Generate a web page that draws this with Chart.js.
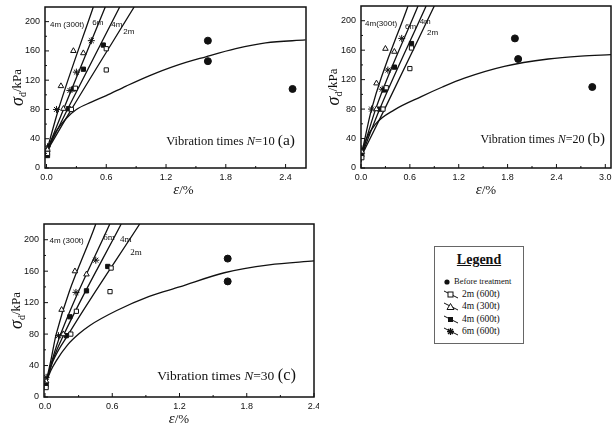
<!DOCTYPE html>
<html>
<head>
<meta charset="utf-8">
<script src="https://cdn.jsdelivr.net/npm/chart.js@4.4.1/dist/chart.umd.min.js"></script>
<style>
  body { margin: 0; width: 616px; height: 430px; background: #fff; position: relative; overflow: hidden; }
  canvas { position: absolute; }
  #legend { position: absolute; left: 434px; top: 246px; width: 88px; height: 96px; border: 1px solid #666; background: #fff;
            font-family: "Liberation Serif", serif; color: #111; }
  #legend .title { text-align: center; font-weight: bold; font-size: 14px; text-decoration: underline; margin-top: 5px; margin-bottom: 7px; color: #111; }
  #legend .row { height: 12.5px; font-size: 9.5px; line-height: 12px; padding-left: 8px; white-space: nowrap; color: #111; }
  #legend .row svg { vertical-align: middle; margin-right: 3px; }
</style>
</head>
<body>
<canvas id="chartA" width="308" height="196" style="left:3px;top:2px"></canvas>
<canvas id="chartB" width="297" height="197" style="left:319px;top:1px"></canvas>
<canvas id="chartC" width="317" height="210" style="left:2px;top:219px"></canvas>
<div id="legend">
  <div class="title">Legend</div>
  <div class="row" style="font-size:8.5px"><svg width="8" height="8"><circle cx="4" cy="4" r="2.6" fill="#111"/></svg>Before treatment</div>
  <div class="row"><svg width="16" height="9"><line x1="1" y1="1" x2="15" y2="8" stroke="#111"/><rect x="5" y="2" width="5" height="5" fill="#fff" stroke="#111"/></svg>2m (600t)</div>
  <div class="row"><svg width="16" height="9"><line x1="1" y1="1" x2="15" y2="8" stroke="#111"/><polygon points="7.5,1.5 11,7.5 4,7.5" fill="#fff" stroke="#111"/></svg>4m (300t)</div>
  <div class="row"><svg width="16" height="9"><line x1="1" y1="1" x2="15" y2="8" stroke="#111"/><rect x="5" y="2" width="5" height="5" fill="#111"/></svg>4m (600t)</div>
  <div class="row"><svg width="16" height="9"><line x1="1" y1="1" x2="15" y2="8" stroke="#111"/><path d="M7.5 1v7M4 4.5h7M5 2l5 5M10 2l-5 5" stroke="#111" stroke-width="1.3"/></svg>6m (600t)</div>
</div>
<script>
// tick labels
const xTicksA = [0, 0.6, 1.2, 1.8, 2.4];
const xTicksB = [0, 0.6, 1.2, 1.8, 2.4, 3.0];
const xTicksC = [0, 0.6, 1.2, 1.8, 2.4];
const yTicks = [0, 40, 80, 120, 160, 200];

// N=10 (a)
const beforePtsA = [[1.62, 174], [1.62, 146], [2.47, 108]];
const beforeCurveA = [[0, 14], [0.02, 26], [0.05, 38], [0.1, 51], [0.2, 68], [0.3, 80], [0.45, 90], [0.6, 99], [0.8, 112], [1.03, 126], [1.3, 140], [1.6, 152], [1.9, 163], [2.2, 171], [2.6, 175]];
const pts2mA = [[0.01, 20], [0.25, 80], [0.29, 109], [0.6, 134], [0.6, 163]];
const pts4m300A = [[0.01, 25], [0.17, 81], [0.145, 112], [0.27, 160], [0.37, 157]];
const pts4m600A = [[0.01, 17], [0.22, 81], [0.27, 108], [0.37, 135], [0.57, 168]];
const pts6mA = [[0.01, 29], [0.1, 80], [0.235, 106], [0.3, 131], [0.45, 174]];
const fit2mA = [[0, 22], [0.25, 80], [0.88, 220]];
const fit4m300A = [[0, 22], [0.12, 80], [0.47, 220]];
const fit4m600A = [[0, 22], [0.21, 80], [0.735, 220]];
const fit6mA = [[0, 22], [0.17, 80], [0.59, 220]];

// N=20 (b)
const beforePtsB = [[1.89, 176], [1.93, 148], [2.84, 110]];
const beforeCurveB = [[0, 8], [0.01, 18], [0.06, 38], [0.18, 60], [0.41, 79], [0.74, 97], [1.0, 110], [1.27, 122], [1.76, 138], [2.3, 148], [2.7, 152], [3.07, 154]];
const pts2mB = [[0.01, 14], [0.27, 80], [0.31, 109], [0.6, 135], [0.62, 163]];
const pts4m300B = [[0.01, 22], [0.19, 80], [0.19, 115], [0.3, 162], [0.41, 158]];
const pts4m600B = [[0.01, 18], [0.23, 80], [0.29, 106], [0.41, 137], [0.62, 169]];
const pts6mB = [[0.01, 26], [0.13, 80], [0.26, 107], [0.33, 133], [0.5, 176]];
const fit2mB = [[0, 15], [0.29, 80], [0.9, 220]];
const fit4m300B = [[0, 15], [0.13, 80], [0.577, 220]];
const fit4m600B = [[0, 15], [0.23, 80], [0.8, 220]];
const fit6mB = [[0, 15], [0.18, 80], [0.7, 220]];

// N=30 (c)
const beforePtsC = [[1.63, 176], [1.63, 147]];
const beforeCurveC = [[0, 10], [0.02, 22], [0.05, 33], [0.1, 46], [0.2, 66], [0.3, 80], [0.4, 91], [0.64, 110], [0.93, 128], [1.2, 140], [1.6, 158], [2.0, 168], [2.4, 173]];
const pts2mC = [[0.01, 12], [0.23, 80], [0.28, 109], [0.58, 134], [0.59, 164]];
const pts4m300C = [[0.01, 20], [0.163, 80], [0.148, 111], [0.267, 160], [0.37, 156]];
const pts4m600C = [[0.01, 16], [0.19, 78], [0.222, 102], [0.37, 135], [0.56, 166]];
const pts6mC = [[0.01, 25], [0.12, 78], [0.276, 133], [0.453, 174]];
const fit2mC = [[0, 13], [0.07, 45], [0.21, 80], [0.845, 220]];
const fit4m300C = [[0, 13], [0.05, 45], [0.1, 80], [0.453, 220]];
const fit4m600C = [[0, 13], [0.065, 45], [0.17, 80], [0.68, 220]];
const fit6mC = [[0, 13], [0.06, 45], [0.14, 80], [0.578, 220]];

const xy = arr => arr.map(p => ({ x: p[0], y: p[1] }));

function curveSet(pts) {
  return { data: xy(pts), showLine: true, pointRadius: 0, borderColor: '#111', borderWidth: 1.3,
           cubicInterpolationMode: 'monotone' };
}
function markSet(pts, style, filled, r) {
  return { data: xy(pts), showLine: false, pointStyle: style, pointRadius: r,
           backgroundColor: filled ? '#111' : '#fff', borderColor: '#111', borderWidth: 1 };
}

// frame, inward ticks, axis titles and inside texts
const framePlugin = {
  id: 'frame',
  afterDraw(chart, args, opts) {
    const { ctx, chartArea: a, scales: { x, y } } = chart;
    ctx.save();
    ctx.strokeStyle = '#111';
    ctx.lineWidth = 1.5;
    ctx.strokeRect(a.left, a.top, a.right - a.left, a.bottom - a.top);
    ctx.lineWidth = 1;
    const seg = (x1, y1, x2, y2) => { ctx.beginPath(); ctx.moveTo(x1, y1); ctx.lineTo(x2, y2); ctx.stroke(); };
    const xs = opts.xTicks;
    const xStep = xs[1] - xs[0];
    xs.forEach(v => {
      const p = x.getPixelForValue(v);
      seg(p, a.bottom, p, a.bottom - 4);
      const m = x.getPixelForValue(v + xStep / 2);
      if (m < a.right - 1) seg(m, a.bottom, m, a.bottom - 2);
    });
    const ys = opts.yTicks;
    const yStep = ys[1] - ys[0];
    ys.forEach(v => {
      const p = y.getPixelForValue(v);
      seg(a.left, p, a.left + 4, p);
      const m = y.getPixelForValue(v + yStep / 2);
      if (m > a.top + 1) seg(a.left, m, a.left + 2, m);
    });

    // y title: sigma_d / kPa
    ctx.fillStyle = '#111';
    ctx.save();
    ctx.translate(a.left - 27, (a.top + a.bottom) / 2);
    ctx.rotate(-Math.PI / 2);
    ctx.textBaseline = 'middle';
    const f1 = 'italic 18px "Liberation Serif"', f2 = '10px "Liberation Serif"', f3 = '13px "Liberation Serif"';
    ctx.font = f1; const w1 = ctx.measureText('σ').width;
    ctx.font = f2; const w2 = ctx.measureText('d').width;
    ctx.font = f3; const w3 = ctx.measureText('/kPa').width;
    let sx = -(w1 + w2 + w3) / 2;
    ctx.font = f1; ctx.fillText('σ', sx, 0); sx += w1;
    ctx.font = f2; ctx.fillText('d', sx, 5); sx += w2;
    ctx.font = f3; ctx.fillText('/kPa', sx, 0);
    ctx.restore();

    // x title: epsilon / %
    ctx.textBaseline = 'alphabetic';
    ctx.font = 'italic 15px "Liberation Serif"'; const e1 = ctx.measureText('ε').width;
    ctx.font = '13px "Liberation Serif"'; const e2 = ctx.measureText('/%').width;
    let ex = (a.left + a.right) / 2 - (e1 + e2) / 2 + opts.xTitleShift;
    ctx.font = 'italic 15px "Liberation Serif"'; ctx.fillText('ε', ex, a.bottom + 26);
    ctx.font = '13px "Liberation Serif"'; ctx.fillText('/%', ex + e1, a.bottom + 26);

    // "Vibration times N=.. (.)"
    const fs = opts.noteSize;
    const parts = [
      ['Vibration times ', fs + 'px "Liberation Serif"'],
      ['N', 'italic ' + fs + 'px "Liberation Serif"'],
      ['=' + opts.n + ' ', fs + 'px "Liberation Serif"'],
      ['(' + opts.tag + ')', (fs + 3) + 'px "Liberation Serif"']
    ];
    let tw = 0;
    parts.forEach(p => { ctx.font = p[1]; tw += ctx.measureText(p[0]).width; });
    let tx = a.right - opts.noteRight - tw;
    const ty = a.bottom - opts.noteBottom;
    parts.forEach(p => { ctx.font = p[1]; ctx.fillText(p[0], tx, ty); tx += ctx.measureText(p[0]).width; });

    // curve labels
    ctx.textBaseline = 'middle';
    opts.labels.forEach(l => {
      ctx.font = l.font;
      ctx.fillText(l.text, x.getPixelForValue(l.x), y.getPixelForValue(l.y));
    });
    ctx.restore();
  }
};

function makePanel(id, cfg) {
  const tickFont = { family: '"Liberation Sans", Arial, sans-serif', size: 9 };
  return new Chart(document.getElementById(id), {
    type: 'scatter',
    data: {
      datasets: [
        markSet(cfg.beforePts, 'circle', true, 3.5),
        markSet(cfg.pts2m, 'rect', false, 3),
        markSet(cfg.pts4m300, 'triangle', false, 3.2),
        markSet(cfg.pts4m600, 'rect', true, 3),
        markSet(cfg.pts6m, 'star', true, 3.5),
        curveSet(cfg.beforeCurve),
        curveSet(cfg.fit2m),
        curveSet(cfg.fit4m300),
        curveSet(cfg.fit4m600),
        curveSet(cfg.fit6m)
      ]
    },
    options: {
      responsive: false,
      animation: false,
      layout: { padding: { top: 4, right: cfg.padRight, left: 0, bottom: 0 } },
      scales: {
        x: {
          type: 'linear', min: cfg.xMin, max: cfg.xMax,
          grid: { display: false, drawTicks: false }, border: { display: false },
          afterBuildTicks: s => { s.ticks = cfg.xTicks.map(v => ({ value: v })); },
          afterFit: s => { s.height = cfg.xAxisH; s.paddingLeft = 0; s.paddingRight = 0; },
          ticks: { padding: 4, color: '#111', font: tickFont, maxRotation: 0, autoSkip: false,
                   callback: v => v.toFixed(1) }
        },
        y: {
          type: 'linear', min: 0, max: 220,
          grid: { display: false, drawTicks: false }, border: { display: false },
          afterBuildTicks: s => { s.ticks = yTicks.map(v => ({ value: v })); },
          afterFit: s => { s.width = 42; s.paddingTop = 0; s.paddingBottom = 0; },
          ticks: { padding: 5, color: '#111', font: tickFont }
        }
      },
      plugins: {
        legend: { display: false },
        tooltip: { enabled: false },
        frame: {
          xTicks: cfg.xTicks, yTicks: yTicks, n: cfg.n, tag: cfg.tag,
          noteSize: cfg.noteSize, noteRight: cfg.noteRight, noteBottom: cfg.noteBottom,
          xTitleShift: cfg.xTitleShift, labels: cfg.labels
        }
      }
    },
    plugins: [framePlugin]
  });
}

const sansLab = '8px "Liberation Sans", Arial, sans-serif';
const serifLab = '9px "Liberation Serif", serif';

makePanel('chartA', {
  beforePts: beforePtsA, beforeCurve: beforeCurveA, pts2m: pts2mA, pts4m300: pts4m300A, pts4m600: pts4m600A, pts6m: pts6mA,
  fit2m: fit2mA, fit4m300: fit4m300A, fit4m600: fit4m600A, fit6m: fit6mA,
  xTicks: xTicksA, xMin: -0.015, xMax: 2.605, xAxisH: 30, padRight: 4,
  n: 10, tag: 'a', noteSize: 12.5, noteRight: 11, noteBottom: 23, xTitleShift: 8,
  labels: [
    { text: '4m (300t)', x: 0.035, y: 195, font: sansLab },
    { text: '6m', x: 0.46, y: 198, font: sansLab },
    { text: '4m', x: 0.65, y: 195, font: sansLab },
    { text: '2m', x: 0.77, y: 186, font: sansLab }
  ]
});

makePanel('chartB', {
  beforePts: beforePtsB, beforeCurve: beforeCurveB, pts2m: pts2mB, pts4m300: pts4m300B, pts4m600: pts4m600B, pts6m: pts6mB,
  fit2m: fit2mB, fit4m300: fit4m300B, fit4m600: fit4m600B, fit6m: fit6mB,
  xTicks: xTicksB, xMin: 0, xMax: 3.07, xAxisH: 30, padRight: 3,
  n: 20, tag: 'b', noteSize: 12, noteRight: 6, noteBottom: 25, xTitleShift: 0,
  labels: [
    { text: '4m(300t)', x: 0.05, y: 196, font: sansLab },
    { text: '6m', x: 0.54, y: 192, font: sansLab },
    { text: '4m', x: 0.72, y: 198, font: sansLab },
    { text: '2m', x: 0.81, y: 184, font: sansLab }
  ]
});

makePanel('chartC', {
  beforePts: beforePtsC, beforeCurve: beforeCurveC, pts2m: pts2mC, pts4m300: pts4m300C, pts4m600: pts4m600C, pts6m: pts6mC,
  fit2m: fit2mC, fit4m300: fit4m300C, fit4m600: fit4m600C, fit6m: fit6mC,
  xTicks: xTicksC, xMin: -0.009, xMax: 2.4, xAxisH: 32, padRight: 4,
  n: 30, tag: 'c', noteSize: 13.5, noteRight: 18, noteBottom: 17, xTitleShift: 0,
  labels: [
    { text: '4m (300t)', x: 0.04, y: 199, font: sansLab },
    { text: '6m', x: 0.52, y: 203, font: serifLab },
    { text: '4m', x: 0.67, y: 200, font: serifLab },
    { text: '2m', x: 0.76, y: 183, font: serifLab }
  ]
});
</script>
</body>
</html>
